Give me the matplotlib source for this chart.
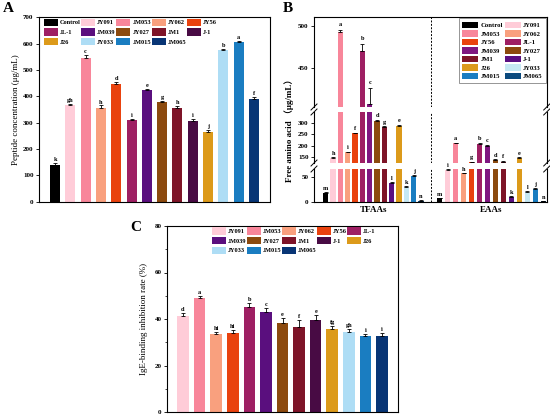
import numpy as np
import matplotlib
matplotlib.use('Agg')
import matplotlib.pyplot as plt
from matplotlib.patches import Patch

plt.rcParams['font.family'] = ['Liberation Serif', 'Noto Sans CJK SC', 'DejaVu Sans']
plt.rcParams['font.weight'] = 'bold'
plt.rcParams['axes.linewidth'] = 0.8

# strains and colours
strains = ['Control', 'JY091', 'JM053', 'JY062', 'JY56', 'JL-1', 'JM039',
           'JY027', 'JM1', 'J-1', 'J26', 'JY033', 'JM015', 'JM065']
colors_ac = ['#000000', '#FFCCD8', '#F8869A', '#F9A07E', '#E9420E', '#9E1F63', '#5A0F7E',
             '#8C4A0E', '#7E1428', '#480B44', '#DC9A1A', '#AEDDF5', '#1A7DC1', '#083575']
colors_b = ['#000000', '#FFCCD8', '#F8869A', '#F9A07E', '#E9420E', '#9E1F63', '#7F1680',
            '#8C4A0E', '#7E1428', '#5A0F82', '#DC9A1A', '#C5E8F3', '#1A7DC1', '#0B4A7E']

# panel A: peptide concentration
peptide = [138, 365, 547, 357, 446, 309, 423, 378, 357, 307, 266, 575, 605, 390]
peptide_err = [9, 7, 10, 8, 9, 5, 6, 5, 6, 6, 7, 4, 4, 9]
peptide_sig = ['k', 'gh', 'c', 'h', 'd', 'i', 'e', 'g', 'h', 'i', 'j', 'b', 'a', 'f']

# panel B: free amino acids
tfaa = [18, 146, 493, 170, 256, 470, 406, 310, 283, 38, 289, 30, 52, 2]
tfaa_err = [1, 2, 2, 3, 2, 8, 20, 7, 4, 1.5, 4, 1.5, 2, 0.5]
tfaa_sig = ['m', 'h', 'a', 'i', 'f', 'b', 'c', 'd', 'g', 'l', 'e', 'k', 'j', 'n']
eaa = [7, 65, 210, 58, 126, 207, 200, 135, 128, 10, 145, 20, 26, 1]
eaa_err = [0.8, 1.5, 3, 1.5, 2, 5, 5, 4, 3, 1, 3, 1.5, 2, 0.3]
eaa_sig = ['m', 'i', 'a', 'h', 'g', 'b', 'c', 'd', 'f', 'k', 'e', 'l', 'j', 'n']
groups = ['TFAAs', 'EAAs']

# panel C: IgE-binding inhibition (no control)
ige = [41.3, 49.0, 33.4, 33.9, 45.0, 42.9, 38.4, 36.6, 39.6, 35.7, 34.6, 32.7, 32.6]
ige_err = [1.2, 1.0, 1.0, 1.5, 2.0, 1.8, 2.0, 3.0, 2.3, 1.5, 1.2, 1.0, 1.2]
ige_sig = ['d', 'a', 'hi', 'hi', 'b', 'c', 'e', 'f', 'e', 'fg', 'gh', 'i', 'i']

W, H = 550, 419
fig = plt.figure(figsize=(W / 100, H / 100), dpi=100)


def box(l, t, r, b):
    return [l / W, 1 - b / H, (r - l) / W, (b - t) / H]


ekw = dict(elinewidth=0.6, capthick=0.6, ecolor='black')
tick_fs = 5
lab_fs = 6.5


def style_ticks(ax):
    ax.tick_params(axis='y', labelsize=tick_fs, length=2.5, width=0.6, pad=1.5)
    ax.tick_params(axis='x', length=0)
    for t in ax.get_yticklabels():
        t.set_fontweight('bold')


def legend_rowmajor(ax, names, cols, ncol, size=4.8, **kw):
    n = len(names)
    order = []
    for c in range(ncol):
        order += list(range(c, n, ncol))
    handles = [Patch(facecolor=cols[i], edgecolor='none') for i in order]
    labels = [names[i] for i in order]
    return ax.legend(handles, labels, ncol=ncol, prop={'size': size, 'weight': 'bold'}, **kw)


# ---------------- A ----------------
axA = fig.add_axes(box(39, 17.3, 270, 201.5))
xa = np.arange(len(strains))
axA.bar(xa, peptide, 0.65, color=colors_ac,
        yerr=[np.zeros(len(xa)), peptide_err], capsize=1.5, error_kw=ekw)
for i in range(len(xa)):
    axA.text(xa[i], peptide[i] + peptide_err[i] + 3, peptide_sig[i],
             ha='center', va='bottom', fontsize=4.5)
axA.set_ylim(0, 700)
axA.set_yticks(range(0, 701, 100))
axA.set_xlim(-1.05, 14.05)
axA.set_xticks([])
style_ticks(axA)
axA.set_ylabel('Peptide concentration (μg/mL)', fontsize=lab_fs, labelpad=2)
legend_rowmajor(axA, strains, colors_ac, 5, size=4.6, loc='upper left',
                bbox_to_anchor=(0.015, 1.0), frameon=False, borderaxespad=0.1,
                handlelength=2.2, handleheight=1.4, columnspacing=0.1, handletextpad=0.3,
                labelspacing=0.35, borderpad=0.1)
fig.text(3 / W, 1 - 8 / H, 'A', fontsize=11, va='center', ha='left')

# ---------------- B (broken axis) ----------------
segments = [((17.3, 107), (403, 510), [450, 500]),
            ((112, 163), (122, 351), [150, 200, 250, 300]),
            ((169, 201.5), (0, 67), [0, 50])]
xt = np.arange(len(strains)) * 1.0
xe = 15.55 + np.arange(len(strains)) * 1.087
axes_b = []
for k, ((top, bot), ylim, ticks) in enumerate(segments):
    ax = fig.add_axes(box(314, top, 546.7, bot))
    ax.bar(xt, tfaa, 0.7, color=colors_b,
           yerr=[np.zeros(len(xt)), tfaa_err], capsize=1.2, error_kw=ekw)
    ax.bar(xe, eaa, 0.75, color=colors_b,
           yerr=[np.zeros(len(xe)), eaa_err], capsize=1.2, error_kw=ekw)
    ax.set_ylim(*ylim)
    ax.set_yticks(ticks)
    ax.set_xlim(-1.6, 30.15)
    ax.axvline(14.37, color='black', lw=0.7, ls=(0, (2, 1.5)))
    style_ticks(ax)
    if k > 0:
        ax.spines['top'].set_visible(False)
    if k < 2:
        ax.spines['bottom'].set_visible(False)
        ax.set_xticks([])
    axes_b.append(ax)

    # letters for bars whose top falls in this segment
    for xs, vals, errs, sigs in [(xt, tfaa, tfaa_err, tfaa_sig), (xe, eaa, eaa_err, eaa_sig)]:
        for i in range(len(vals)):
            if ylim[0] <= vals[i] <= ylim[1]:
                yy = vals[i] + errs[i]
                off = (ylim[1] - ylim[0]) * 0.03
                ax.text(xs[i], yy + off, sigs[i], ha='center', va='bottom',
                        fontsize=4.5, clip_on=False)

axes_b[2].set_xticks([6.5, 15.55 + 6.5 * 1.087])
axes_b[2].set_xticklabels(groups, fontsize=lab_fs)
axes_b[2].tick_params(axis='x', pad=3)

# break marks on the spines
for k in range(2):
    upper, lower = axes_b[k], axes_b[k + 1]
    for ax, yv in [(upper, 0.0), (lower, 1.0)]:
        bb = ax.get_position()
        dy = 3.0 / (bb.height * H)
        dx = 3.0 / (bb.width * W)
        for xv in (0, 1):
            ax.plot([xv - dx, xv + dx], [yv - dy, yv + dy], transform=ax.transAxes,
                    color='black', lw=0.7, clip_on=False)

fig.text(289 / W, 1 - 128 / H, 'Free amino acid （μg/mL）', rotation=90,
         fontsize=lab_fs, va='center', ha='center')
legend_rowmajor(axes_b[0], strains, colors_b, 2, loc='upper right', bbox_to_anchor=(0.995, 0.99),
                frameon=True, fancybox=False, edgecolor='0.4', borderaxespad=0.0,
                handlelength=2.4, handleheight=1.2, columnspacing=0.3, handletextpad=0.3,
                labelspacing=0.25, borderpad=0.5).get_frame().set_linewidth(0.6)
fig.text(283 / W, 1 - 8 / H, 'B', fontsize=11, va='center', ha='left')

# ---------------- C ----------------
axC = fig.add_axes(box(167, 226, 398, 412))
xc = np.arange(len(ige))
axC.bar(xc, ige, 0.7, color=colors_ac[1:],
        yerr=[np.zeros(len(xc)), ige_err], capsize=1.5, error_kw=ekw)
for i in range(len(xc)):
    axC.text(xc[i], ige[i] + ige_err[i] + 0.4, ige_sig[i],
             ha='center', va='bottom', fontsize=4.5)
axC.set_ylim(0, 80)
axC.set_yticks(range(0, 81, 20))
axC.set_yticks(range(10, 80, 20), minor=True)
axC.tick_params(axis='y', which='minor', length=1.5, width=0.5)
axC.set_xlim(-0.96, 12.96)
axC.set_xticks([])
style_ticks(axC)
axC.set_ylabel('IgE-binding inhibition rate (%)', fontsize=lab_fs, labelpad=5)
legend_rowmajor(axC, strains[1:], colors_ac[1:], 5, size=4.6, loc='upper left',
                bbox_to_anchor=(0.19, 1.0), frameon=False, borderaxespad=0.1,
                handlelength=2.2, handleheight=1.4, columnspacing=0.1, handletextpad=0.25,
                labelspacing=0.35, borderpad=0.1)
fig.text(130 / W, 1 - 227 / H, 'C', fontsize=11, va='center', ha='left')

fig.savefig('out.png', dpi=100)
